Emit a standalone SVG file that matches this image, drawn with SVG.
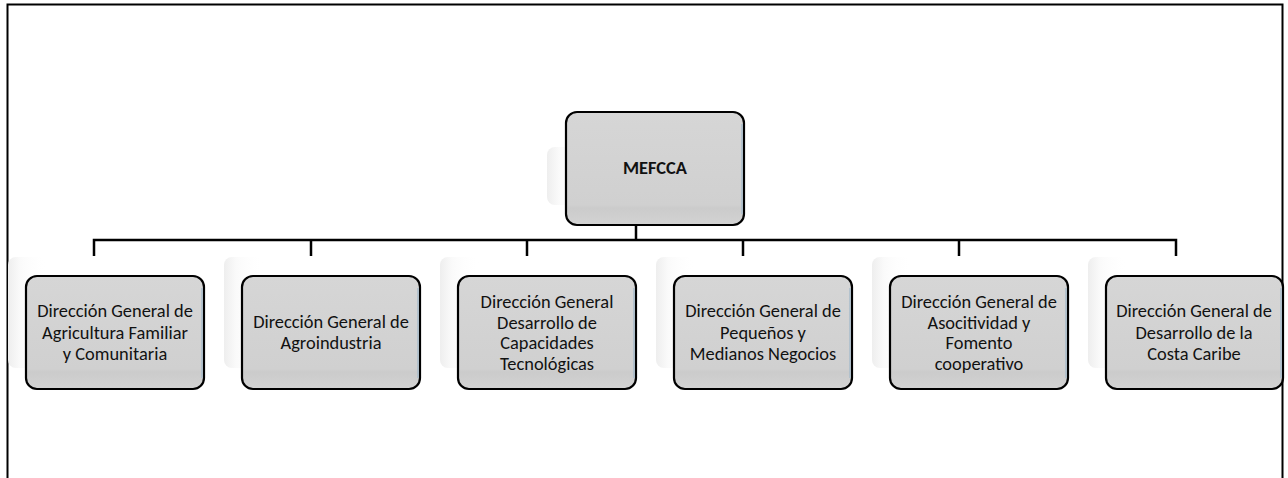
<svg xmlns="http://www.w3.org/2000/svg" width="1288" height="478" viewBox="0 0 1288 478">
<style>
.frame{fill:none;stroke:#000;stroke-width:2}
.ghost{fill:url(#ghostg)}
.box{fill:url(#boxg);stroke:#000;stroke-width:2.2}
.edge{fill:none;stroke:#a9bccb;stroke-width:1.5}
.lbl{font-family:"Carlito","Lato","Liberation Sans",sans-serif;font-size:18.4px;fill:#111;text-anchor:middle}
.title{font-family:"Carlito","Lato","Liberation Sans",sans-serif;font-size:18.4px;font-weight:bold;fill:#111;text-anchor:middle}
.conn{fill:none;stroke:#000;stroke-width:2.5}
</style>
<defs>
<linearGradient id="boxg" x1="0" y1="0" x2="0" y2="1">
<stop offset="0" stop-color="#d6d6d6"/>
<stop offset="0.82" stop-color="#d0d0d0"/>
<stop offset="0.85" stop-color="#cbcbcb"/>
<stop offset="1" stop-color="#d3d3d3"/>
</linearGradient>
<linearGradient id="ghostg" x1="0" y1="0" x2="1" y2="0">
<stop offset="0" stop-color="#eeeeee"/>
<stop offset="0.3" stop-color="#fafafa"/>
<stop offset="1" stop-color="#ffffff" stop-opacity="0"/>
</linearGradient>
</defs>
<rect width="1288" height="478" fill="#fff"/>
<path class="frame" d="M7.5,478 V4.5 H1282.5 V478"/>
<g id="connectors">
<path class="conn" d="M636,225 V240"/>
<path class="conn" d="M94,256 V240 H1176 V256"/>
<path class="conn" d="M311,240 V256"/>
<path class="conn" d="M527,240 V256"/>
<path class="conn" d="M743,240 V256"/>
<path class="conn" d="M959,240 V256"/>
</g>
<g id="n0">
<rect class="ghost" x="547" y="147" width="40" height="58" rx="8"/>
<rect class="box" x="566" y="112" width="178" height="113" rx="11"/>
<path class="edge" d="M742,124 V214"/>
<text class="title" x="655" y="174">MEFCCA</text>
</g>
<g id="n1">
<rect class="ghost" x="8" y="257" width="40" height="111" rx="8"/>
<rect class="box" x="26" y="276" width="178" height="113" rx="11"/>
<path class="edge" d="M202,288 V378"/>
<text class="lbl" x="115" y="317">Dirección General de</text>
<text class="lbl" x="115" y="338.5">Agricultura Familiar</text>
<text class="lbl" x="115" y="360">y Comunitaria</text>
</g>
<g id="n2">
<rect class="ghost" x="224" y="257" width="40" height="111" rx="8"/>
<rect class="box" x="242" y="276" width="178" height="113" rx="11"/>
<path class="edge" d="M418,288 V378"/>
<text class="lbl" x="331" y="328">Dirección General de</text>
<text class="lbl" x="331" y="349">Agroindustria</text>
</g>
<g id="n3">
<rect class="ghost" x="440" y="257" width="40" height="111" rx="8"/>
<rect class="box" x="458" y="276" width="178" height="113" rx="11"/>
<path class="edge" d="M634,288 V378"/>
<text class="lbl" x="547" y="308">Dirección General</text>
<text class="lbl" x="547" y="328.5">Desarrollo de</text>
<text class="lbl" x="547" y="349">Capacidades</text>
<text class="lbl" x="547" y="369.5">Tecnológicas</text>
</g>
<g id="n4">
<rect class="ghost" x="656" y="257" width="40" height="111" rx="8"/>
<rect class="box" x="674" y="276" width="178" height="113" rx="11"/>
<path class="edge" d="M850,288 V378"/>
<text class="lbl" x="763" y="317">Dirección General de</text>
<text class="lbl" x="763" y="338.5">Pequeños y</text>
<text class="lbl" x="763" y="360">Medianos Negocios</text>
</g>
<g id="n5">
<rect class="ghost" x="872" y="257" width="40" height="111" rx="8"/>
<rect class="box" x="890" y="276" width="178" height="113" rx="11"/>
<path class="edge" d="M1066,288 V378"/>
<text class="lbl" x="979" y="308">Dirección General de</text>
<text class="lbl" x="979" y="328.5">Asocitividad y</text>
<text class="lbl" x="979" y="349">Fomento</text>
<text class="lbl" x="979" y="369.5">cooperativo</text>
</g>
<g id="n6">
<rect class="ghost" x="1088" y="257" width="40" height="111" rx="8"/>
<rect class="box" x="1106" y="276" width="177" height="113" rx="11"/>
<path class="edge" d="M1281,288 V378"/>
<text class="lbl" x="1194" y="317">Dirección General de</text>
<text class="lbl" x="1194" y="338.5">Desarrollo de la</text>
<text class="lbl" x="1194" y="360">Costa Caribe</text>
</g>
</svg>
